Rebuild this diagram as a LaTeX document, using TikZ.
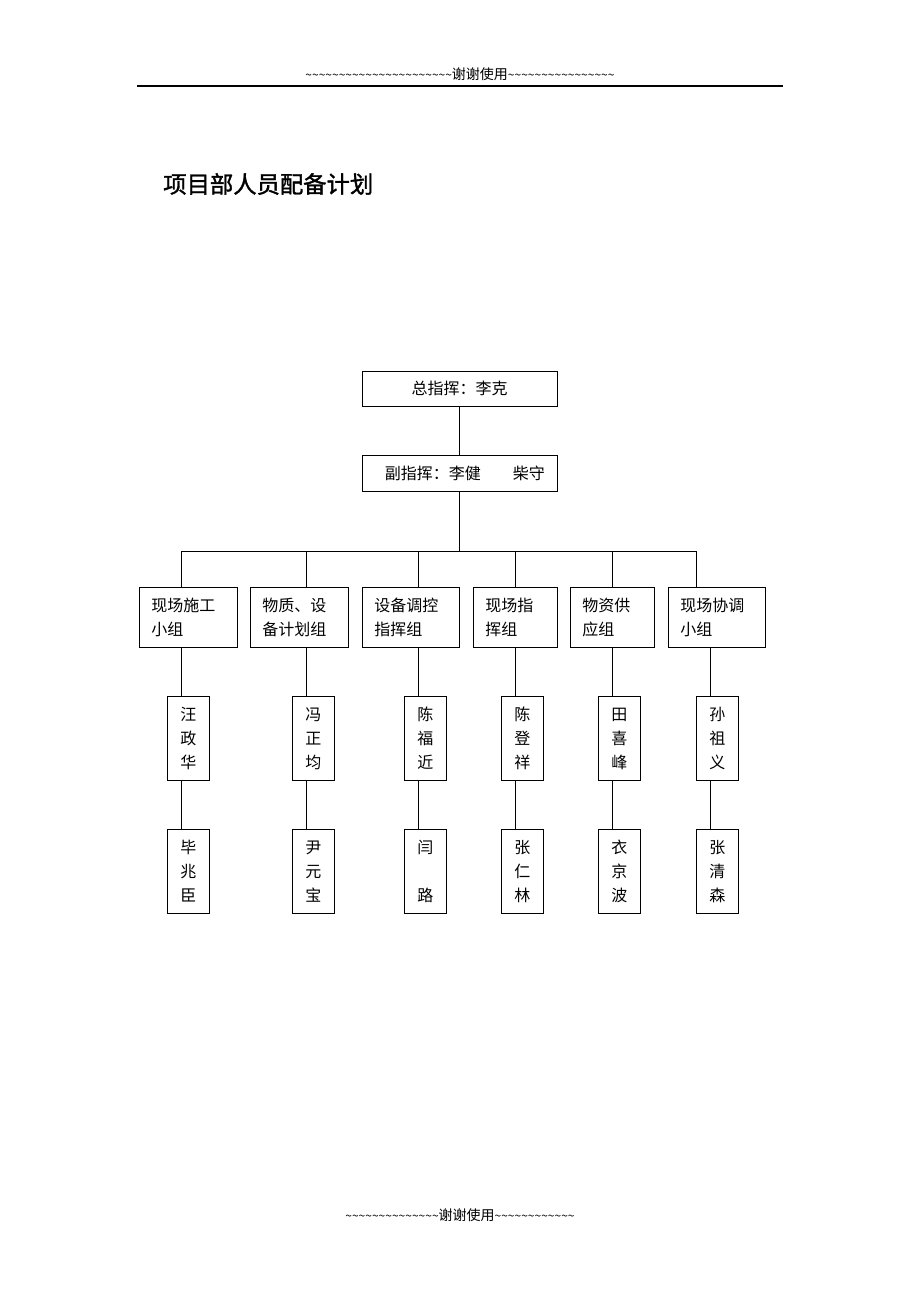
\documentclass[tikz,border=0pt]{standalone}
\usepackage{fontspec}
\setmainfont{Noto Sans CJK SC}
\newfontfamily\titlefont{Noto Sans CJK SC}[FakeBold=1.5]
\usetikzlibrary{positioning}

\newcommand\wavy[1]{{\fontsize{9}{12}\selectfont\foreach \k in {1,...,#1}{\string~}}}

\tikzset{
    box/.style={draw, line width=0.7pt, inner sep=0pt, font=\fontsize{12}{18}\selectfont},
    groupbox/.style={box, anchor=north west, align=left, text width=#1, inner xsep=9pt, minimum height=45pt},
    namebox/.style={box, anchor=north west, align=center, minimum width=31.5pt, minimum height=63pt},
    link/.style={line width=0.7pt}
}

\begin{document}
\begin{tikzpicture}[x=0.75pt, y=-0.75pt]
            \useasboundingbox (0,0) rectangle (920,1302);
            % header and footer
            \node[font=\fontsize{10.5}{12}\selectfont] (head) at (460,74) {\wavy{22}谢谢使用\wavy{16}};
            \draw[line width=0.9pt] (137,86) -- (783,86);
            \node[font=\fontsize{10.5}{12}\selectfont] (foot) at (460,1215) {\wavy{14}谢谢使用\wavy{12}};
            \node[anchor=west, inner xsep=0pt, font=\titlefont\fontsize{17.5}{20}\selectfont] (title) at (163,184) {项目部人员配备计划};

            % command
            \node[box, minimum width=146.25pt, minimum height=26.25pt] (chief) at (459.5,388.5) {总指挥：李克\hspace{4pt}};
            \node[box, minimum width=146.25pt, minimum height=27pt] (deputy) at (459.5,473) {\hspace{8pt}副指挥：李健　　柴守};
            \coordinate (bus) at (459.5,551);
            \draw[link] (chief) -- (deputy);
            \draw[link] (deputy) -- (bus);

            % groups and members
            \foreach \n/\bx/\cx/\gx/\gw/\px/\gtxt/\ptxt/\qtxt in {
                    1/181/181/139/55.5pt/167/现场施工\\小组/汪\\政\\华/毕\\兆\\臣,
                    2/306/306/250/55.5pt/292/物质、设\\备计划组/冯\\正\\均/尹\\元\\宝,
                    3/418/418/362/54.75pt/404/设备调控\\指挥组/陈\\福\\近/闫\\　\\路,
                    4/515/515/473/45pt/501/现场指\\挥组/陈\\登\\祥/张\\仁\\林,
                    5/612/612/570/45pt/598/物资供\\应组/田\\喜\\峰/衣\\京\\波,
                    6/696/710/668/54.75pt/696/现场协调\\小组/孙\\祖\\义/张\\清\\森} {
                    \coordinate (b\n) at (\bx,551);
                    \coordinate (c\n) at (\cx,700);
                    \node[groupbox=\gw] (g\n) at (\gx,587) {\gtxt};
                    \node[namebox] (p\n) at (\px,696) {\ptxt};
                    \node[namebox] (q\n) at (\px,829) {\qtxt};
                    \draw[link] (b\n) -- (b\n |- g\n.north);
                    \draw[link] (g\n.south -| c\n) -- (p\n.north -| c\n);
                    \draw[link] (p\n.south -| c\n) -- (q\n.north -| c\n);
                };
            \draw[link] (b1) -- (b6);
        \end{tikzpicture}
\end{document}
